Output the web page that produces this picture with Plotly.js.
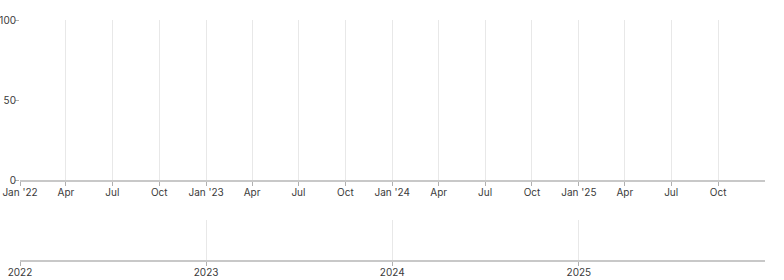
<!DOCTYPE html>
<html>
<head>
<meta charset="utf-8">
<script src="https://cdn.plot.ly/plotly-3.0.1.min.js"></script>
<style>html,body{margin:0;padding:0;background:#fff;}#chart{width:784px;height:280px;}</style>
</head>
<body>
<div id="chart"></div>
<script>
// Series (the reference chart shows no data points)
const dates = [];
const values = [];
// Tick labels
const quarterTicks = ['2022-01-01','2022-04-01','2022-07-01','2022-10-01','2023-01-01','2023-04-01','2023-07-01','2023-10-01','2024-01-01','2024-04-01','2024-07-01','2024-10-01','2025-01-01','2025-04-01','2025-07-01','2025-10-01'];
const quarterLabels = ["Jan '22",'Apr','Jul','Oct',"Jan '23",'Apr','Jul','Oct',"Jan '24",'Apr','Jul','Oct',"Jan '25",'Apr','Jul','Oct'];
const yearTicks = ['2022-01-01','2023-01-01','2024-01-01','2025-01-01'];
const yearLabels = ['2022','2023','2024','2025'];
const yTicks = [0,50,100];
const xRange = ['2022-01-01','2026-01-01'];

const font = {family:'Inter, Roboto, sans-serif', size:10, color:'#3a3a3a'};
const traces = [
  {x:dates, y:values, type:'scatter', mode:'lines', xaxis:'x', yaxis:'y', showlegend:false},
  {x:dates, y:values, type:'scatter', mode:'lines', xaxis:'x2', yaxis:'y2', showlegend:false}
];
const layout = {
  width:784, height:280,
  margin:{l:20, r:19, t:20, b:20},
  paper_bgcolor:'#fff', plot_bgcolor:'#fff',
  font:font, showlegend:false,
  xaxis:{type:'date', range:xRange, tickvals:quarterTicks, ticktext:quarterLabels,
    showgrid:true, gridcolor:'#e8e8e8', gridwidth:1, showline:true, linecolor:'#c8c8c8', linewidth:2,
    ticks:'outside', ticklen:4, tickcolor:'#b0b0b0', tickfont:font, zeroline:false, anchor:'y', fixedrange:true,
    ticklabelstandoff:-2},
  yaxis:{domain:[0.3333,1], range:[0,100], tickvals:yTicks, showgrid:false, zeroline:false, showline:false,
    ticks:'outside', ticklen:4, tickcolor:'#b0b0b0', tickfont:font, anchor:'x', fixedrange:true,
    ticklabelstandoff:-3},
  xaxis2:{type:'date', range:xRange, tickvals:yearTicks, ticktext:yearLabels,
    showgrid:true, gridcolor:'#e8e8e8', gridwidth:1, showline:true, linecolor:'#c8c8c8', linewidth:2,
    ticks:'outside', ticklen:4, tickcolor:'#b0b0b0', tickfont:font, zeroline:false, anchor:'y2', fixedrange:true,
    ticklabelstandoff:-2},
  yaxis2:{domain:[0,0.1667], range:[0,1], showticklabels:false, showgrid:false, zeroline:false, showline:false, ticks:'', anchor:'x2', fixedrange:true}
};
Plotly.newPlot('chart', traces, layout, {displayModeBar:false, staticPlot:true});
</script>
</body>
</html>
